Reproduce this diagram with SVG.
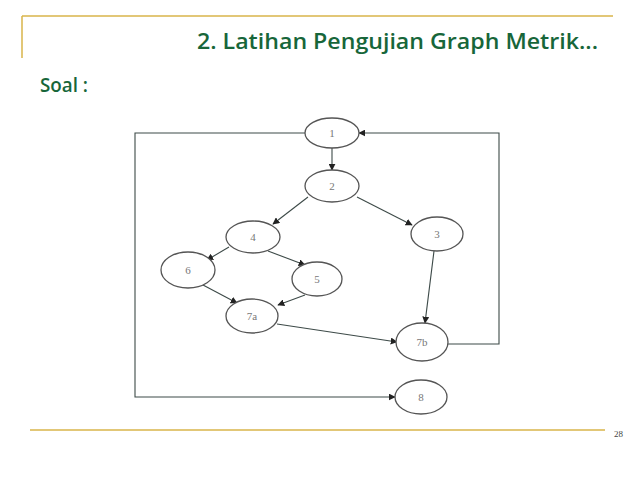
<svg xmlns="http://www.w3.org/2000/svg" width="638" height="479" viewBox="0 0 638 479">
<style>
.frame{stroke:#d9b54a;stroke-width:1.5;fill:none}
.title{font-family:"Open Sans","Liberation Sans",sans-serif;fill:#17663a;font-weight:600}
.node ellipse{fill:#fff;stroke:#555;stroke-width:1.3}
.node text{font-family:"Liberation Serif",serif;font-size:11px;fill:#777;text-anchor:middle}
.edge{stroke:#3d4a48;stroke-width:1.1;fill:none}
</style>
<defs>
<marker id="ah" viewBox="0 0 10 10" refX="9" refY="5" markerWidth="7" markerHeight="7" orient="auto" markerUnits="userSpaceOnUse">
<path d="M0,0 L10,5 L0,10 z" fill="#222"/>
</marker>
</defs>
<rect width="638" height="479" fill="#fff"/>
<g id="frame">
<line class="frame" x1="22" y1="16" x2="613" y2="16"/>
<line class="frame" x1="22" y1="16" x2="22" y2="58"/>
<line class="frame" x1="30" y1="430" x2="605" y2="430"/>
</g>
<text class="title" x="197" y="49" font-size="22" textLength="401" lengthAdjust="spacingAndGlyphs">2. Latihan Pengujian Graph Metrik...</text>
<text class="title" x="40" y="92" font-size="20" textLength="48" lengthAdjust="spacingAndGlyphs">Soal :</text>
<text x="614" y="437" font-family="Liberation Serif,serif" font-size="9" fill="#444">28</text>
<g id="connectors">
<polyline class="edge" points="305,133 135,133 135,397 395,397" marker-end="url(#ah)"/>
<polyline class="edge" points="448,344 499,344 499,133 359,133" marker-end="url(#ah)"/>
<line class="edge" x1="332" y1="148" x2="332" y2="170" marker-end="url(#ah)"/>
<line class="edge" x1="308" y1="197" x2="273" y2="224" marker-end="url(#ah)"/>
<line class="edge" x1="357" y1="197" x2="412" y2="225" marker-end="url(#ah)"/>
<line class="edge" x1="229" y1="247" x2="207" y2="260" marker-end="url(#ah)"/>
<line class="edge" x1="268" y1="251" x2="305" y2="265" marker-end="url(#ah)"/>
<line class="edge" x1="203" y1="285" x2="237" y2="303" marker-end="url(#ah)"/>
<line class="edge" x1="305" y1="295" x2="278" y2="305" marker-end="url(#ah)"/>
<line class="edge" x1="277" y1="324" x2="397" y2="342" marker-end="url(#ah)"/>
<line class="edge" x1="434" y1="251" x2="425" y2="323" marker-end="url(#ah)"/>
</g>
<g id="n1" class="node"><ellipse cx="332" cy="133" rx="27" ry="15"/><text x="332" y="137">1</text></g>
<g id="n2" class="node"><ellipse cx="332" cy="186" rx="27" ry="16"/><text x="332" y="190">2</text></g>
<g id="n4" class="node"><ellipse cx="253" cy="237" rx="27" ry="16"/><text x="253" y="241">4</text></g>
<g id="n3" class="node"><ellipse cx="437" cy="234" rx="26" ry="17"/><text x="437" y="238">3</text></g>
<g id="n6" class="node"><ellipse cx="188" cy="270" rx="27" ry="18"/><text x="188" y="274">6</text></g>
<g id="n5" class="node"><ellipse cx="317" cy="279" rx="25" ry="17"/><text x="317" y="283">5</text></g>
<g id="n7a" class="node"><ellipse cx="252" cy="316" rx="26" ry="17"/><text x="252" y="320">7a</text></g>
<g id="n7b" class="node"><ellipse cx="422" cy="342" rx="26" ry="19"/><text x="422" y="346">7b</text></g>
<g id="n8" class="node"><ellipse cx="421" cy="397" rx="26" ry="17"/><text x="421" y="401">8</text></g>
</svg>
